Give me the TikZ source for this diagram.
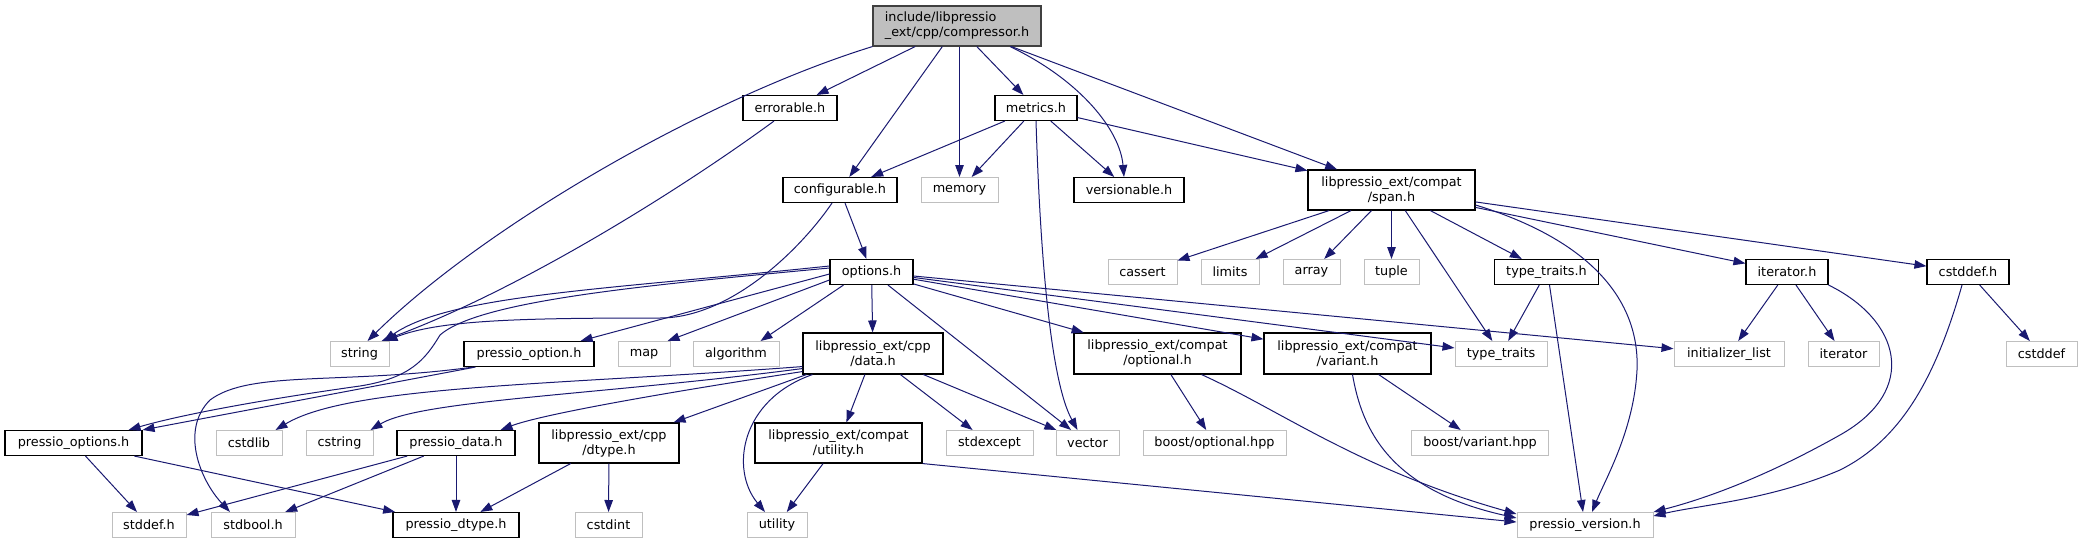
\documentclass[tikz,border=0pt]{standalone}
\usepackage{fontspec}
\setmainfont{DejaVu Sans}
\usetikzlibrary{arrows.meta}
\definecolor{edgeblue}{HTML}{191970}
\definecolor{extgray}{HTML}{BFBFBF}
\definecolor{rootline}{HTML}{404040}

\begin{document}
\begin{tikzpicture}[x=1pt, y=-1pt, >={Triangle[length=12pt,width=8.5pt]},
    font=\fontsize{12.8}{15}\selectfont,
    hdr/.style={draw=black, line width=1.1pt, fill=white, inner sep=0pt,
        minimum height=25pt, align=center},
    ext/.style={hdr, draw=extgray, line width=1pt},
    root/.style={hdr, fill=extgray, draw=rootline, align=left, minimum height=40pt},
    two/.style={minimum height=40pt},
    dep/.style={->, draw=edgeblue, line width=1pt}]

    % --- 1. RAHMEN ---
    \useasboundingbox (0,0) rectangle (2082,544);

    % --- 2. KNOTEN (Zeile fuer Zeile) ---
    \node[root, minimum width=168pt] (root) at (957,26) {include/libpressio\\\_ext/cpp/compressor.h};

    \node[hdr, minimum width=94pt] (errorable) at (790,108) {errorable.h};
    \node[hdr, minimum width=82pt] (metrics) at (1036,108) {metrics.h};

    \node[hdr, minimum width=114pt] (configurable) at (840,190) {configurable.h};
    \node[ext, minimum width=77pt] (memory) at (959.5,190) {memory};
    \node[hdr, minimum width=110pt] (versionable) at (1129,190) {versionable.h};
    \node[hdr, two, minimum width=167pt] (span) at (1391.5,190) {libpressio\_ext/compat\\/span.h};

    \node[hdr, minimum width=83pt] (options) at (871.5,272) {options.h};
    \node[ext, minimum width=69pt] (cassert) at (1142.5,272) {cassert};
    \node[ext, minimum width=58pt] (limits) at (1230,272) {limits};
    \node[ext, minimum width=57pt] (array) at (1311.5,272) {array};
    \node[ext, minimum width=55pt] (tuple) at (1391.5,272) {tuple};
    \node[hdr, minimum width=104pt] (typetraitsh) at (1546.5,272) {type\_traits.h};
    \node[hdr, minimum width=82pt] (iteratorh) at (1787,272) {iterator.h};
    \node[hdr, minimum width=82pt] (cstddefh) at (1968,272) {cstddef.h};

    \node[ext, minimum width=59pt] (string) at (359.5,354) {string};
    \node[hdr, minimum width=130pt] (pressiooption) at (529,354) {pressio\_option.h};
    \node[ext, minimum width=52pt] (map) at (644,354) {map};
    \node[ext, minimum width=86pt] (algorithm) at (736,354) {algorithm};
    \node[hdr, two, minimum width=140pt, minimum height=41pt] (data) at (873,353.5) {libpressio\_ext/cpp\\/data.h};
    \node[hdr, two, minimum width=167pt, minimum height=41pt] (optional) at (1157.5,353.5) {libpressio\_ext/compat\\/optional.h};
    \node[hdr, two, minimum width=167pt, minimum height=41pt] (variant) at (1347.5,353.5) {libpressio\_ext/compat\\/variant.h};
    \node[ext, minimum width=92pt] (typetraits) at (1501,354) {type\_traits};
    \node[ext, minimum width=110pt] (initlist) at (1729,354) {initializer\_list};
    \node[ext, minimum width=71pt] (iterator) at (1843.5,354) {iterator};
    \node[ext, minimum width=71pt] (cstddef) at (2041.5,354) {cstddef};

    \node[hdr, minimum width=137pt] (pressiooptions) at (73.5,443) {pressio\_options.h};
    \node[ext, minimum width=66pt] (cstdlib) at (249,443) {cstdlib};
    \node[ext, minimum width=67pt] (cstring) at (339.5,443) {cstring};
    \node[hdr, minimum width=118pt] (pressiodata) at (456,443) {pressio\_data.h};
    \node[hdr, two, minimum width=140pt] (dtype) at (609,443) {libpressio\_ext/cpp\\/dtype.h};
    \node[hdr, two, minimum width=167pt] (compatutility) at (838.5,443) {libpressio\_ext/compat\\/utility.h};
    \node[ext, minimum width=87pt] (stdexcept) at (989.5,443) {stdexcept};
    \node[ext, minimum width=63pt] (vector) at (1087.5,443) {vector};
    \node[ext, minimum width=143pt] (boostoptional) at (1214.5,443) {boost/optional.hpp};
    \node[ext, minimum width=137pt] (boostvariant) at (1480,443) {boost/variant.hpp};

    \node[ext, minimum width=74pt] (stddef) at (149,525) {stddef.h};
    \node[ext, minimum width=84pt] (stdbool) at (253,525) {stdbool.h};
    \node[hdr, minimum width=126pt] (pressiodtype) at (456,525) {pressio\_dtype.h};
    \node[ext, minimum width=67pt] (cstdint) at (608.5,525) {cstdint};
    \node[ext, minimum width=60pt] (utility) at (777,525) {utility};
    \node[ext, minimum width=136pt] (version) at (1585,525) {pressio\_version.h};

    % --- 3. KANTEN: compressor.h ---
    \draw[dep] (root.south west) .. controls (700,100) and (480,230) .. ([xshift=8pt]string.north);
    \draw[dep] (root) -- (errorable);
    \draw[dep] (root) -- (configurable);
    \draw[dep] (root.south -| memory) -- (memory);
    \draw[dep] (root) -- (metrics);
    \draw[dep] ([xshift=53pt]root.south) .. controls (1080,80) and (1120,130) .. ([xshift=-5pt]versionable.north);
    \draw[dep] (root) -- (span);

    % --- 4. KANTEN: errorable.h, metrics.h, configurable.h ---
    \draw[dep] ([xshift=-16pt]errorable.south) .. controls (680,190) and (520,290) .. ([xshift=-8pt]string.north east);
    \draw[dep] (metrics) -- (configurable);
    \draw[dep] (metrics) -- (memory);
    \draw[dep] (metrics) -- (versionable);
    \draw[dep] (metrics) -- (span);
    \draw[dep] (metrics.south) .. controls (1040,250) and (1050,380) .. ([xshift=-10pt]vector.north);
    \draw[dep] (configurable) -- (options);
    \draw[dep] ([xshift=-8pt]configurable.south) .. controls (800,250) and (730,318) .. (660,318)
        .. controls (520,318) and (440,320) .. ([xshift=-4pt]string.north east);

    % --- 5. KANTEN: options.h ---
    \draw[dep] ([yshift=6pt]options.west) .. controls (600,290) and (450,295) .. ([xshift=-6pt]string.north east);
    \draw[dep] ([yshift=4pt]options.west) .. controls (650,285) and (480,300) .. (440,335)
        .. controls (425,360) and (410,378) .. (360,386)
        .. controls (260,400) and (180,415) .. ([xshift=-14pt]pressiooptions.north east);
    \draw[dep] ([yshift=-2pt]options.west) -- ([xshift=-14pt]pressiooption.north east);
    \draw[dep] ([yshift=-8pt]options.west) -- ([xshift=-3pt]map.north east);
    \draw[dep] ([xshift=-28pt]options.south) -- ([xshift=-19pt]algorithm.north east);
    \draw[dep] (options) -- (data);
    \draw[dep] (options) -- (vector);
    \draw[dep] (options) -- (optional);
    \draw[dep] (options) -- (variant);
    \draw[dep] (options) -- (typetraits);
    \draw[dep] (options) -- (initlist);

    % --- 6. KANTEN: libpressio_ext/compat/span.h ---
    \draw[dep] (span) -- (cassert);
    \draw[dep] (span) -- (limits);
    \draw[dep] (span) -- (array);
    \draw[dep] (span) -- (tuple);
    \draw[dep] (span) -- (typetraits);
    \draw[dep] (span) -- (typetraitsh);
    \draw[dep] (span) -- (iteratorh);
    \draw[dep] (span) -- (cstddefh);
    \draw[dep] ([yshift=-15pt]span.east) .. controls (1590,240) and (1640,300) .. (1637,370)
        .. controls (1634,430) and (1605,480) .. ([xshift=7pt]version.north);

    % --- 7. KANTEN: type_traits.h, iterator.h, cstddef.h ---
    \draw[dep] (typetraitsh) -- (typetraits);
    \draw[dep] ([xshift=3pt]typetraitsh.south) -- ([xshift=-2pt]version.north);
    \draw[dep] (iteratorh) -- (initlist);
    \draw[dep] (iteratorh) -- (iterator);
    \draw[dep] (iteratorh.south east) .. controls (1900,320) and (1920,390) .. (1840,435)
        .. controls (1760,480) and (1700,500) .. (version.north east);
    \draw[dep] (cstddefh) -- (cstddef);
    \draw[dep] ([xshift=-6pt]cstddefh.south) .. controls (1935,380) and (1900,440) .. (1840,470)
        .. controls (1770,500) and (1700,505) .. ([yshift=-4pt]version.north east);

    % --- 8. KANTEN: pressio_option.h, pressio_options.h ---
    \draw[dep] ([xshift=12pt]pressiooption.south west) -- (pressiooptions.north east);
    \draw[dep] ([xshift=10pt]pressiooption.south west) .. controls (340,385) and (250,370) .. (210,400)
        .. controls (180,430) and (200,480) .. ([xshift=-23pt]stdbool.north);
    \draw[dep] (pressiooptions) -- (stddef);
    \draw[dep] (pressiooptions) -- (pressiodtype);

    % --- 9. KANTEN: libpressio_ext/cpp/data.h ---
    \draw[dep] ([yshift=8pt]data.south west) .. controls (560,385) and (350,385) .. ([xshift=-7pt]cstdlib.north east);
    \draw[dep] ([yshift=6pt]data.south west) .. controls (600,395) and (420,400) .. ([xshift=-3pt]cstring.north east);
    \draw[dep] ([yshift=3pt]data.south west) .. controls (650,395) and (540,415) .. ([xshift=-15pt]pressiodata.north east);
    \draw[dep] ([xshift=4pt]data.south west) -- ([xshift=-6pt]dtype.north east);
    \draw[dep] (data) -- (compatutility);
    \draw[dep] (data) -- (stdexcept);
    \draw[dep] (data) -- (vector);
    \draw[dep] ([xshift=10pt]data.south west) .. controls (740,400) and (730,470) .. ([xshift=-12pt]utility.north);

    % --- 10. KANTEN: untere Zeilen ---
    \draw[dep] (pressiodata) -- (stddef);
    \draw[dep] (pressiodata) -- (stdbool);
    \draw[dep] (pressiodata) -- (pressiodtype);
    \draw[dep] (dtype) -- (pressiodtype);
    \draw[dep] (dtype) -- (cstdint);
    \draw[dep] (compatutility) -- (utility);
    \draw[dep] (compatutility.south east) -- ([yshift=3pt]version.west);
    \draw[dep] (optional) -- (boostoptional);
    \draw[dep] ([xshift=44pt]optional.south) .. controls (1280,410) and (1360,470) .. ([yshift=11pt]version.west);
    \draw[dep] (variant) -- (boostvariant);
    \draw[dep] ([xshift=5pt]variant.south) .. controls (1362,430) and (1390,490) .. ([yshift=7pt]version.west);

\end{tikzpicture}
\end{document}
